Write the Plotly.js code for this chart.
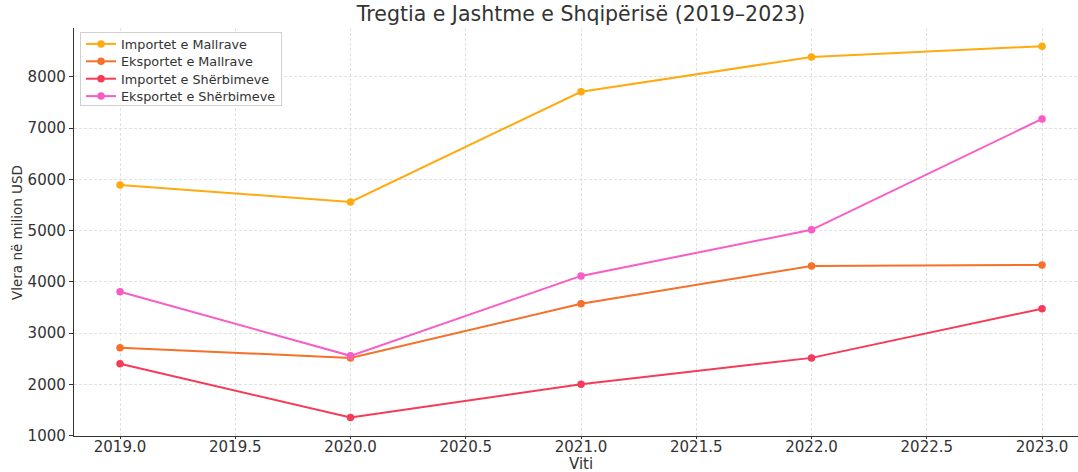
<!DOCTYPE html>
<html>
<head>
<meta charset="utf-8">
<script src="https://cdn.plot.ly/plotly-3.0.1.min.js"></script>
<style>html,body{margin:0;padding:0;background:#fff;}#chart{width:1078px;height:472px;}</style>
</head>
<body>
<div id="chart"></div>
<script>
const years = [2019, 2020, 2021, 2022, 2023];
const importetMallrave = [5890, 5560, 7710, 8390, 8600];
const eksportetMallrave = [2715, 2515, 3570, 4310, 4330];
const importetSherbimeve = [2400, 1350, 2000, 2515, 3475];
const eksportetSherbimeve = [3805, 2555, 4115, 5015, 7180];
const seriesNames = ["Importet e Mallrave", "Eksportet e Mallrave", "Importet e Shërbimeve", "Eksportet e Shërbimeve"];
const seriesColors = ["#FFAA0F", "#F7702A", "#F53B57", "#F95CC6"];
const seriesValues = [importetMallrave, eksportetMallrave, importetSherbimeve, eksportetSherbimeve];
const xTitle = 'Viti';
const yTitle = 'Vlera në milion USD';
const chartTitle = 'Tregtia e Jashtme e Shqipërisë (2019–2023)';

const traces = seriesValues.map((vals, i) => ({
  x: years, y: vals, name: seriesNames[i], type: 'scatter', mode: 'lines+markers',
  line: {color: seriesColors[i], width: 2},
  marker: {color: seriesColors[i], size: 7.5}
}));

const font = "DejaVu Sans, sans-serif";
const layout = {
  width: 1078, height: 472,
  margin: {l: 74, r: 0, t: 28, b: 36},
  paper_bgcolor: '#fff', plot_bgcolor: '#fff',
  font: {family: font, color: '#333', size: 13},
  title: {text: chartTitle, font: {family: font, size: 20.5, color: '#333'}, x: 0.539, xanchor: 'center', y: 0.97, yanchor: 'middle'},
  xaxis: {
    range: [2018.8004, 2023.156], tick0: 2019, dtick: 0.5, tickformat: '.1f',
    showgrid: true, gridcolor: '#d9d9d9', griddash: '3px,2px', gridwidth: 0.8,
    showline: true, linecolor: '#333', linewidth: 1.2, zeroline: false,
    ticks: 'outside', ticklen: 2, tickcolor: '#333', tickfont: {size: 15, color: '#333'},
    ticklabelstandoff: -5,
    automargin: false
  },
  yaxis: {
    range: [990, 8955], tick0: 1000, dtick: 1000,
    showgrid: true, gridcolor: '#d9d9d9', griddash: '3px,2px', gridwidth: 0.8,
    showline: true, linecolor: '#333', linewidth: 1.2, zeroline: false,
    ticks: 'outside', ticklen: 4, tickcolor: '#333', tickfont: {size: 15, color: '#333'},
    automargin: false
  },
  annotations: [
    {text: xTitle, xref: 'paper', yref: 'paper', x: 0.505, y: -0.0686, xanchor: 'center', yanchor: 'middle', showarrow: false, font: {family: font, size: 15, color: '#333'}},
    {text: yTitle, xref: 'paper', yref: 'paper', x: -0.0568, y: 0.5, xanchor: 'center', yanchor: 'middle', textangle: -90, showarrow: false, font: {family: font, size: 13.5, color: '#333'}}
  ],
  legend: {
    x: 0.006, y: 0.99, xanchor: 'left', yanchor: 'top',
    bgcolor: 'rgba(255,255,255,0.9)', bordercolor: '#d0d0d0', borderwidth: 1,
    font: {family: font, size: 12.8, color: '#333'}, tracegroupgap: 0, itemwidth: 30
  },
  showlegend: true
};
Plotly.newPlot('chart', traces, layout, {displayModeBar: false, staticPlot: true}).then(function (gd) {
  try {
    const leg = gd.querySelector('.legend');
    const items = leg.querySelectorAll('g.traces');
    const pos = Array.from(items).map(function (el) {
      const m = /translate\(\s*([-\d.e]+)[ ,]+([-\d.e]+)\s*\)/.exec(el.getAttribute('transform') || '');
      return m ? [parseFloat(m[1]), parseFloat(m[2])] : null;
    });
    if (pos.every(Boolean) && pos.length) {
      const step = 17.4, shift = -4;
      items.forEach(function (el, i) {
        el.setAttribute('transform', 'translate(' + pos[i][0] + ',' + (pos[0][1] + shift + i * step) + ')');
      });
      const bg = leg.querySelector('rect.bg');
      if (bg) bg.setAttribute('height', 73);
    }
  } catch (e) {}
});
</script>
</body>
</html>
